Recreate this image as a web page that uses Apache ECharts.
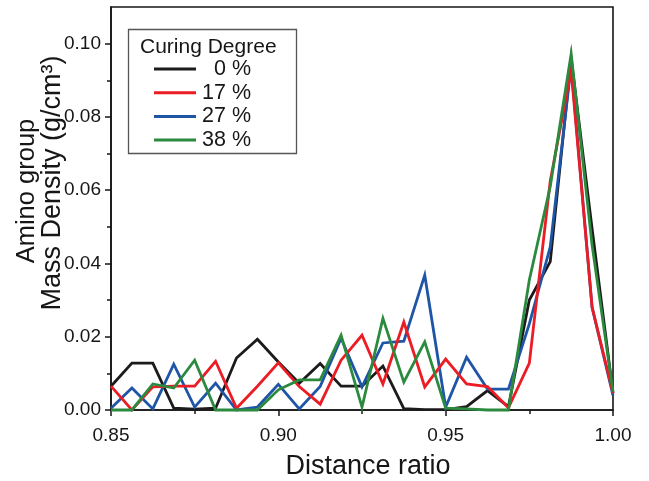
<!DOCTYPE html>
<html>
<head>
<meta charset="utf-8">
<script src="https://cdn.jsdelivr.net/npm/echarts@6/dist/echarts.min.js"></script>
<style>html,body{margin:0;padding:0;background:#fff}#c{width:649px;height:481px}</style>
</head>
<body>
<div id="c"></div>
<script>
// Distance ratio sample positions
const distance = [0.85, 0.85625, 0.8625, 0.86875, 0.875, 0.88125, 0.8875, 0.89375, 0.9,
  0.90625, 0.9125, 0.91875, 0.925, 0.93125, 0.9375, 0.94375, 0.95, 0.95625, 0.9625,
  0.96875, 0.975, 0.98125, 0.9875, 0.99375, 1.0];
// Amino group mass density (g/cm3) per curing degree
const cure0  = [0.0065, 0.0128, 0.0128, 0.0005, 0.0002, 0.0005, 0.0142, 0.0193, 0.0131, 0.0073, 0.0127, 0.0065, 0.0065, 0.0120, 0.0004, 0.0001, 0.0001, 0.0009, 0.0053, 0.0009, 0.0300, 0.0405, 0.0960, 0.0495, 0.0046];
const cure17 = [0.0065, 0.0000, 0.0063, 0.0065, 0.0065, 0.0133, 0.0005, 0.0065, 0.0129, 0.0064, 0.0016, 0.0136, 0.0204, 0.0071, 0.0240, 0.0063, 0.0139, 0.0071, 0.0064, 0.0006, 0.0128, 0.0625, 0.0926, 0.0281, 0.0046];
const cure27 = [0.0005, 0.0060, 0.0003, 0.0125, 0.0008, 0.0073, 0.0000, 0.0008, 0.0070, 0.0003, 0.0064, 0.0196, 0.0063, 0.0183, 0.0188, 0.0368, 0.0008, 0.0144, 0.0057, 0.0057, 0.0235, 0.0445, 0.0940, 0.0280, 0.0040];
const cure38 = [0.0000, 0.0000, 0.0071, 0.0060, 0.0136, 0.0000, 0.0000, 0.0000, 0.0055, 0.0082, 0.0082, 0.0204, 0.0008, 0.0250, 0.0076, 0.0186, 0.0005, 0.0003, 0.0000, 0.0000, 0.0355, 0.0610, 0.0972, 0.0450, 0.0050];
const seriesNames = ['  0 %', '17 %', '27 %', '38 %'];
const xTicks = [0.85, 0.90, 0.95, 1.00];
const xMinorTicks = [0.875, 0.925, 0.975];
const yTicks = [0, 0.02, 0.04, 0.06, 0.08, 0.10];
const yMinorTicks = [0.01, 0.03, 0.05, 0.07, 0.09];

const FONT = '"Liberation Sans", Arial, Helvetica, sans-serif';
const INK = '#161616';
const colors = ['#1c1a1b', '#ec1c24', '#1f55a6', '#2b8a3e'];
const values = [cure0, cure17, cure27, cure38];
const drawOrder = [0, 2, 1, 3];

const chart = echarts.init(document.getElementById('c'), null, {renderer: 'canvas'});
const axisLine = {show: true, lineStyle: {color: INK, width: 1.6}};
const lbl = {fontFamily: FONT, fontSize: 19, color: INK};

const option = {
  animation: false,
  backgroundColor: '#fff',
  grid: {left: 111, top: 7, width: 502, height: 403, show: true, borderColor: INK, borderWidth: 1.6, backgroundColor: 'transparent'},
  xAxis: [{
    type: 'value', min: 0.85, max: 1.0, position: 'bottom',
    axisLine: axisLine,
    axisTick: {show: true, inside: false, length: 6, customValues: xTicks, lineStyle: {color: INK, width: 1.5}},
    axisLabel: Object.assign({customValues: xTicks, margin: 16, formatter: v => v.toFixed(2)}, lbl),
    splitLine: {show: false}
  }, {
    type: 'value', min: 0.85, max: 1.0, position: 'bottom', offset: 0,
    axisLine: {show: false},
    axisTick: {show: true, length: 4, customValues: xMinorTicks, lineStyle: {color: INK, width: 1.5}},
    axisLabel: {show: false},
    splitLine: {show: false}
  }],
  yAxis: [{
    type: 'value', min: 0, max: 0.11, position: 'left',
    axisLine: axisLine,
    axisTick: {show: true, length: 6, customValues: yTicks, lineStyle: {color: INK, width: 1.5}},
    axisLabel: Object.assign({customValues: yTicks, margin: 10, formatter: v => v.toFixed(2)}, lbl),
    splitLine: {show: false}
  }, {
    type: 'value', min: 0, max: 0.11, position: 'left', offset: 0,
    axisLine: {show: false},
    axisTick: {show: true, length: 4, customValues: yMinorTicks, lineStyle: {color: INK, width: 1.5}},
    axisLabel: {show: false},
    splitLine: {show: false}
  }],
  legend: {
    show: true, orient: 'vertical', left: 154, top: 58,
    data: seriesNames,
    icon: 'rect', itemWidth: 42, itemHeight: 3, itemGap: 1.7,
    textStyle: {fontFamily: FONT, fontSize: 21.5, color: INK, lineHeight: 20, padding: [0, 0, 0, 1]},
    padding: 0, selectedMode: false
  },
  graphic: [
    {type: 'rect', shape: {x: 128.5, y: 29.5, width: 168, height: 124}, style: {fill: 'none', stroke: '#555', lineWidth: 1.3}, z: 10},
    {type: 'text', x: 140, y: 47, style: {text: 'Curing Degree', font: '21px ' + FONT, fill: INK, verticalAlign: 'middle', align: 'left'}, z: 10},
    {type: 'text', x: 27, y: 191, rotation: Math.PI / 2, style: {text: 'Amino group', font: '25.5px ' + FONT, fill: INK, align: 'center', verticalAlign: 'middle'}},
    {type: 'text', x: 53, y: 183, rotation: Math.PI / 2, style: {text: 'Mass Density (g/cm³)', font: '27px ' + FONT, fill: INK, align: 'center', verticalAlign: 'middle'}},
    {type: 'text', x: 368, y: 467, style: {text: 'Distance ratio', font: '27px ' + FONT, fill: INK, align: 'center', verticalAlign: 'middle'}}
  ],
  series: drawOrder.map(i => ({
    name: seriesNames[i], type: 'line', xAxisIndex: 0, yAxisIndex: 0,
    data: distance.map((d, k) => [d, values[i][k]]),
    showSymbol: false, symbol: 'none',
    lineStyle: {color: colors[i], width: 2.8, join: 'miter'},
    itemStyle: {color: colors[i]},
    clip: false
  }))
};
chart.setOption(option);
</script>
</body>
</html>
